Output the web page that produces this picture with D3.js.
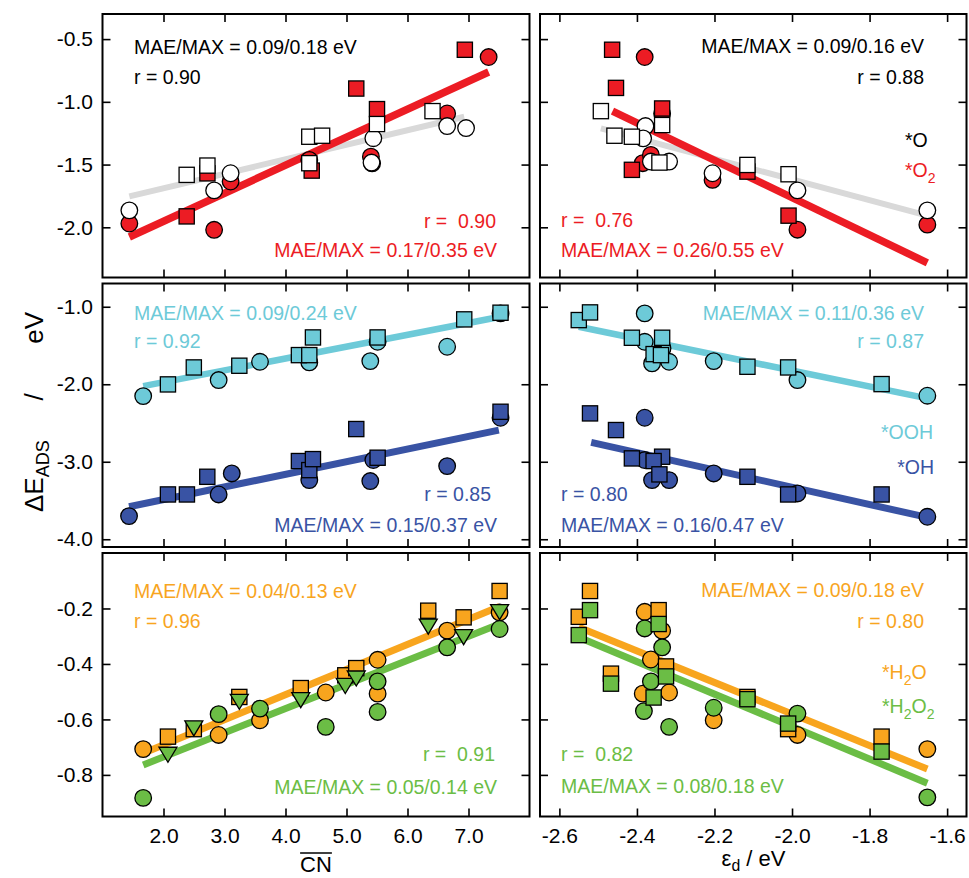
<!DOCTYPE html>
<html>
<head>
<meta charset="utf-8">
<script src="https://cdn.jsdelivr.net/npm/d3@7"></script>
<style>
    body { margin: 0; background: #fff; }
    text { font-family: "Liberation Sans", Arial, Helvetica, sans-serif; white-space: pre; }
</style>
</head>
<body>
<svg id="chart" width="969" height="878"></svg>
<script>
// ---- tick values / labels ----
const cnTicks = [2, 3, 4, 5, 6, 7];
const cnTickLabels = ["2.0", "3.0", "4.0", "5.0", "6.0", "7.0"];
const edTicks = [-2.6, -2.4, -2.2, -2.0, -1.8, -1.6];
const edTickLabels = ["-2.6", "-2.4", "-2.2", "-2.0", "-1.8", "-1.6"];
const oTicks = [-0.5, -1.0, -1.5, -2.0];
const oTickLabels = ["-0.5", "-1.0", "-1.5", "-2.0"];
const ohTicks = [-1, -2, -3, -4];
const ohTickLabels = ["-1.0", "-2.0", "-3.0", "-4.0"];
const h2oTicks = [-0.2, -0.4, -0.6, -0.8];
const h2oTickLabels = ["-0.2", "-0.4", "-0.6", "-0.8"];

// ---- *O / *O2 vs CN ----
const o2CnCircles = [[1.44, -1.97], [2.83, -2.02], [3.10, -1.635], [4.39, -1.463], [5.40, -1.437], [5.42, -1.49], [6.65, -1.093], [7.33, -0.643]];
const o2CnSquares = [[2.38, -1.913], [2.72, -1.57], [4.43, -1.548], [5.16, -0.894], [5.50, -1.058], [6.94, -0.585]];
const oCnCircles = [[1.44, -1.865], [2.83, -1.706], [3.10, -1.569], [5.44, -1.29], [5.41, -1.484], [6.65, -1.193], [6.96, -1.209]];
const oCnSquares = [[2.38, -1.582], [2.72, -1.508], [4.39, -1.278], [4.60, -1.270], [4.39, -1.489], [5.50, -1.177], [6.41, -1.074]];
const o2CnFit = [[1.44, -2.077], [7.33, -0.762]];
const oCnFit = [[1.44, -1.754], [6.93, -1.119]];

// ---- *O / *O2 vs d-band centre ----
const o2EdSquares = [[-2.464, -0.585], [-2.454, -0.889], [-2.335, -1.053], [-2.413, -1.542], [-2.115, -1.556], [-2.009, -1.907]];
const o2EdCircles = [[-2.380, -0.643], [-2.335, -1.093], [-2.385, -1.489], [-2.364, -1.423], [-2.205, -1.622], [-1.986, -2.019], [-1.651, -1.979]];
const oEdCircles = [[-2.378, -1.193], [-2.384, -1.291], [-2.317, -1.476], [-2.364, -1.476], [-2.205, -1.569], [-1.986, -1.706], [-1.651, -1.865]];
const oEdSquares = [[-2.493, -1.074], [-2.458, -1.270], [-2.413, -1.278], [-2.335, -1.185], [-2.342, -1.484], [-2.115, -1.503], [-2.009, -1.577]];
const o2EdFit = [[-2.463, -1.074], [-1.651, -2.283]];
const oEdFit = [[-2.493, -1.212], [-1.651, -1.907]];

// ---- *OOH / *OH vs CN ----
const oohCnCircles = [[1.667, -2.153], [2.904, -1.946], [3.582, -1.710], [4.39, -1.718], [5.39, -1.701], [5.51, -1.452], [6.65, -1.516], [7.525, -1.086]];
const oohCnSquares = [[2.073, -2.002], [2.497, -1.783], [3.243, -1.761], [4.22, -1.624], [4.39, -1.624], [4.45, -1.396], [5.51, -1.396], [6.93, -1.163], [7.525, -1.077]];
const ohCnCircles = [[1.435, -3.701], [2.904, -3.422], [3.119, -3.151], [4.39, -3.237], [5.39, -3.249], [5.44, -2.978], [6.65, -3.056], [7.525, -2.432]];
const ohCnSquares = [[2.073, -3.422], [2.384, -3.422], [2.718, -3.194], [4.22, -2.991], [4.39, -3.108], [4.45, -2.966], [5.16, -2.578], [5.51, -2.948], [7.525, -2.355]];
const oohCnFit = [[1.667, -2.024], [7.525, -1.129]];
const ohCnFit = [[1.435, -3.581], [7.497, -2.591]];

// ---- *OOH / *OH vs d-band centre ----
const oohEdCircles = [[-2.380, -1.086], [-2.380, -1.452], [-2.334, -1.538], [-2.361, -1.731], [-2.317, -1.710], [-2.202, -1.701], [-1.986, -1.946], [-1.651, -2.148]];
const oohEdSquares = [[-2.550, -1.172], [-2.521, -1.073], [-2.413, -1.400], [-2.335, -1.400], [-2.357, -1.611], [-2.338, -1.624], [-2.115, -1.774], [-2.010, -1.783], [-1.769, -1.998]];
const ohEdCircles = [[-2.380, -2.432], [-2.380, -2.978], [-2.361, -3.237], [-2.317, -3.237], [-2.202, -3.151], [-1.986, -3.409], [-1.651, -3.710]];
const ohEdSquares = [[-2.521, -2.376], [-2.454, -2.591], [-2.413, -2.957], [-2.335, -2.935], [-2.357, -2.991], [-2.342, -3.163], [-2.115, -3.194], [-2.010, -3.422], [-1.769, -3.422]];
const oohEdFit = [[-2.550, -1.258], [-1.651, -2.183]];
const ohEdFit = [[-2.518, -2.751], [-1.651, -3.718]];

// ---- *H2O / *H2O2 vs CN ----
const h2oCnCircles = [[1.667, -0.707], [2.904, -0.656], [3.582, -0.603], [4.66, -0.503], [5.51, -0.385], [5.51, -0.507], [6.65, -0.280], [7.51, -0.214]];
const h2oCnSquares = [[2.073, -0.662], [2.497, -0.635], [3.243, -0.519], [4.25, -0.487], [4.98, -0.441], [5.16, -0.415], [6.34, -0.208], [6.92, -0.232], [7.51, -0.137]];
const h2o2CnCircles = [[1.667, -0.883], [2.904, -0.581], [3.582, -0.561], [4.66, -0.627], [5.51, -0.463], [5.51, -0.573], [6.65, -0.340], [7.51, -0.274]];
const h2o2CnTriangles = [[2.073, -0.722], [2.497, -0.627], [3.243, -0.531], [4.25, -0.525], [4.98, -0.474], [5.16, -0.447], [6.34, -0.260], [6.92, -0.298], [7.51, -0.208]];
const h2oCnFit = [[1.667, -0.722], [7.51, -0.193]];
const h2o2CnFit = [[1.667, -0.764], [7.51, -0.256]];

// ---- *H2O / *H2O2 vs d-band centre ----
const h2oEdCircles = [[-2.380, -0.212], [-2.335, -0.280], [-2.364, -0.384], [-2.385, -0.507], [-2.317, -0.503], [-2.202, -0.603], [-1.986, -0.656], [-1.651, -0.707]];
const h2oEdSquares = [[-2.550, -0.230], [-2.521, -0.137], [-2.467, -0.435], [-2.344, -0.206], [-2.325, -0.409], [-2.115, -0.519], [-2.010, -0.635], [-1.769, -0.662]];
const h2o2EdCircles = [[-2.380, -0.272], [-2.335, -0.340], [-2.364, -0.463], [-2.382, -0.570], [-2.317, -0.627], [-2.202, -0.558], [-1.986, -0.579], [-1.651, -0.881]];
const h2o2EdSquares = [[-2.550, -0.296], [-2.521, -0.206], [-2.467, -0.471], [-2.344, -0.256], [-2.325, -0.445], [-2.357, -0.521], [-2.115, -0.527], [-2.010, -0.615], [-1.769, -0.716]];
const h2oEdFit = [[-2.550, -0.268], [-1.651, -0.779]];
const h2o2EdFit = [[-2.550, -0.304], [-1.651, -0.830]];

// ---- layout & colours ----
const red = "#ec1c24", grey = "#d9d9d9", cyan = "#6dcad8", blue = "#3953a4",
    orange = "#f8a51e", green = "#6bbd45";

const colX = [[102.5, 529.5], [540, 966.5]];
const rowY = [[14, 277.5], [283.5, 547], [553, 816.5]];
const xDomains = [[1, 8], [-2.65, -1.55]];
const yDomains = [[-2.4, -0.3], [-4.1, -0.7], [-0.95, 0]];
const xTickSets = [[cnTicks, cnTickLabels], [edTicks, edTickLabels]];
const yTickSets = [[oTicks, oTickLabels], [ohTicks, ohTickLabels], [h2oTicks, h2oTickLabels]];

const svg = d3.select("#chart");

function richText(g, x, y, parts, color, anchor, size, subShift) {
    let shift = subShift || size * 0.3;
    let t = g.append("text")
        .attr("x", x).attr("y", y)
        .attr("text-anchor", anchor)
        .attr("fill", color)
        .style("font-size", size + "px");
    let down = false;
    parts.forEach(p => {
        let sub = p.startsWith("_");
        let s = sub ? p.slice(1) : p;
        let ts = t.append("tspan").text(s);
        if (sub) {
            ts.style("font-size", (size * 0.72) + "px").attr("dy", shift);
            down = true;
        } else if (down) {
            ts.attr("dy", -shift);
            down = false;
        }
    });
    return t;
}

function drawPanel(col, row, cfg) {
    let x = d3.scaleLinear().domain(xDomains[col]).range(colX[col]);
    let y = d3.scaleLinear().domain(yDomains[row]).range([rowY[row][1], rowY[row][0]]);
    let [x0, x1] = colX[col];
    let [y0, y1] = rowY[row];
    let xt = xTickSets[col], yt = yTickSets[row];

    let g = svg.append("g");

    // inward ticks on all four sides
    let tickStyle = s => s.call(a => a.select(".domain").remove())
        .call(a => a.selectAll("line").attr("stroke", "#000").attr("stroke-width", 1.6));
    g.append("g").attr("transform", `translate(0,${y0})`)
        .call(d3.axisBottom(x).tickValues(xt[0]).tickSize(8).tickFormat("")).call(tickStyle);
    g.append("g").attr("transform", `translate(0,${y1})`)
        .call(d3.axisTop(x).tickValues(xt[0]).tickSize(8).tickFormat("")).call(tickStyle);
    g.append("g").attr("transform", `translate(${x0},0)`)
        .call(d3.axisRight(y).tickValues(yt[0]).tickSize(8).tickFormat("")).call(tickStyle);
    g.append("g").attr("transform", `translate(${x1},0)`)
        .call(d3.axisLeft(y).tickValues(yt[0]).tickSize(8).tickFormat("")).call(tickStyle);

    // tick labels
    if (row === 2) {
        g.append("g").attr("transform", `translate(0,${y1})`)
            .call(d3.axisBottom(x).tickValues(xt[0]).tickSize(0).tickPadding(12)
                .tickFormat((d, i) => xt[1][i]))
            .call(a => a.select(".domain").remove())
            .call(a => a.selectAll("text").attr("fill", "#000")
                .style("font-size", "21px").style("font-family", "Liberation Sans, Arial, sans-serif"));
    }
    if (col === 0) {
        g.append("g").attr("transform", `translate(${x0},0)`)
            .call(d3.axisLeft(y).tickValues(yt[0]).tickSize(0).tickPadding(9.5)
                .tickFormat((d, i) => yt[1][i]))
            .call(a => a.select(".domain").remove())
            .call(a => a.selectAll("text").attr("fill", "#000")
                .style("font-size", "21px").style("font-family", "Liberation Sans, Arial, sans-serif"));
    }

    // fit lines
    let line = d3.line().x(d => x(d[0])).y(d => y(d[1]));
    cfg.fits.forEach(f => {
        g.append("path")
            .datum(f.data)
            .attr("d", line)
            .attr("fill", "none")
            .attr("stroke", f.color)
            .attr("stroke-width", f.width);
    });

    // markers
    cfg.series.forEach(s => {
        let m = g.append("g")
            .attr("fill", s.color)
            .attr("stroke", "#000")
            .attr("stroke-width", 1.3);
        if (s.shape === "circle") {
            m.selectAll("circle").data(s.data).join("circle")
                .attr("cx", d => x(d[0])).attr("cy", d => y(d[1])).attr("r", 8.3);
        } else if (s.shape === "square") {
            m.selectAll("rect").data(s.data).join("rect")
                .attr("x", d => x(d[0]) - 7.6).attr("y", d => y(d[1]) - 7.6)
                .attr("width", 15.2).attr("height", 15.2);
        } else {
            m.selectAll("path").data(s.data).join("path")
                .attr("d", "M-9,-6L9,-6L0,9Z")
                .attr("transform", d => `translate(${x(d[0])},${y(d[1])})`);
        }
    });

    // stats and legend text
    cfg.notes.forEach(n => richText(g, n.x, n.y, n.parts, n.color, n.anchor, n.size || 19.5));

    // frame
    g.append("rect")
        .attr("x", x0).attr("y", y0)
        .attr("width", x1 - x0).attr("height", y1 - y0)
        .attr("fill", "none").attr("stroke", "#000").attr("stroke-width", 2);
}

drawPanel(0, 0, {
    fits: [{ data: oCnFit, color: grey, width: 6 }, { data: o2CnFit, color: red, width: 7.5 }],
    series: [
        { data: o2CnCircles, shape: "circle", color: red },
        { data: o2CnSquares, shape: "square", color: red },
        { data: oCnCircles, shape: "circle", color: "#fff" },
        { data: oCnSquares, shape: "square", color: "#fff" }
    ],
    notes: [
        { x: 134, y: 54, parts: ["MAE/MAX = 0.09/0.18 eV"], color: "#000", anchor: "start" },
        { x: 134, y: 84, parts: ["r = 0.90"], color: "#000", anchor: "start" },
        { x: 496, y: 228, parts: ["r =  0.90"], color: red, anchor: "end" },
        { x: 497, y: 257, parts: ["MAE/MAX = 0.17/0.35 eV"], color: red, anchor: "end" }
    ]
});

drawPanel(1, 0, {
    fits: [{ data: oEdFit, color: grey, width: 6 }, { data: o2EdFit, color: red, width: 7.5 }],
    series: [
        { data: o2EdCircles, shape: "circle", color: red },
        { data: o2EdSquares, shape: "square", color: red },
        { data: oEdCircles, shape: "circle", color: "#fff" },
        { data: oEdSquares, shape: "square", color: "#fff" }
    ],
    notes: [
        { x: 924, y: 53, parts: ["MAE/MAX = 0.09/0.16 eV"], color: "#000", anchor: "end" },
        { x: 924, y: 84, parts: ["r = 0.88"], color: "#000", anchor: "end" },
        { x: 905, y: 147, parts: ["*O"], color: "#000", anchor: "start" },
        { x: 905, y: 177, parts: ["*O", "_2"], color: red, anchor: "start" },
        { x: 561, y: 227, parts: ["r =  0.76"], color: red, anchor: "start" },
        { x: 561, y: 257, parts: ["MAE/MAX = 0.26/0.55 eV"], color: red, anchor: "start" }
    ]
});

drawPanel(0, 1, {
    fits: [{ data: oohCnFit, color: cyan, width: 6.5 }, { data: ohCnFit, color: blue, width: 7 }],
    series: [
        { data: oohCnCircles, shape: "circle", color: cyan },
        { data: oohCnSquares, shape: "square", color: cyan },
        { data: ohCnCircles, shape: "circle", color: blue },
        { data: ohCnSquares, shape: "square", color: blue }
    ],
    notes: [
        { x: 134, y: 320, parts: ["MAE/MAX = 0.09/0.24 eV"], color: cyan, anchor: "start" },
        { x: 134, y: 348, parts: ["r = 0.92"], color: cyan, anchor: "start" },
        { x: 491, y: 501, parts: ["r = 0.85"], color: blue, anchor: "end" },
        { x: 497, y: 532, parts: ["MAE/MAX = 0.15/0.37 eV"], color: blue, anchor: "end" }
    ]
});

drawPanel(1, 1, {
    fits: [{ data: oohEdFit, color: cyan, width: 6.5 }, { data: ohEdFit, color: blue, width: 7 }],
    series: [
        { data: oohEdCircles, shape: "circle", color: cyan },
        { data: oohEdSquares, shape: "square", color: cyan },
        { data: ohEdCircles, shape: "circle", color: blue },
        { data: ohEdSquares, shape: "square", color: blue }
    ],
    notes: [
        { x: 924, y: 320, parts: ["MAE/MAX = 0.11/0.36 eV"], color: cyan, anchor: "end" },
        { x: 924, y: 348, parts: ["r = 0.87"], color: cyan, anchor: "end" },
        { x: 933, y: 439, parts: ["*OOH"], color: cyan, anchor: "end" },
        { x: 934, y: 474, parts: ["*OH"], color: blue, anchor: "end" },
        { x: 561, y: 501, parts: ["r = 0.80"], color: blue, anchor: "start" },
        { x: 561, y: 532, parts: ["MAE/MAX = 0.16/0.47 eV"], color: blue, anchor: "start" }
    ]
});

drawPanel(0, 2, {
    fits: [{ data: h2o2CnFit, color: green, width: 7 }, { data: h2oCnFit, color: orange, width: 7 }],
    series: [
        { data: h2oCnCircles, shape: "circle", color: orange },
        { data: h2oCnSquares, shape: "square", color: orange },
        { data: h2o2CnCircles, shape: "circle", color: green },
        { data: h2o2CnTriangles, shape: "triangle", color: green }
    ],
    notes: [
        { x: 134, y: 598, parts: ["MAE/MAX = 0.04/0.13 eV"], color: orange, anchor: "start" },
        { x: 134, y: 628, parts: ["r = 0.96"], color: orange, anchor: "start" },
        { x: 495, y: 761, parts: ["r =  0.91"], color: green, anchor: "end" },
        { x: 497, y: 794, parts: ["MAE/MAX = 0.05/0.14 eV"], color: green, anchor: "end" }
    ]
});

drawPanel(1, 2, {
    fits: [{ data: h2o2EdFit, color: green, width: 7 }, { data: h2oEdFit, color: orange, width: 7 }],
    series: [
        { data: h2oEdCircles, shape: "circle", color: orange },
        { data: h2oEdSquares, shape: "square", color: orange },
        { data: h2o2EdCircles, shape: "circle", color: green },
        { data: h2o2EdSquares, shape: "square", color: green }
    ],
    notes: [
        { x: 924, y: 597, parts: ["MAE/MAX = 0.09/0.18 eV"], color: orange, anchor: "end" },
        { x: 924, y: 628, parts: ["r = 0.80"], color: orange, anchor: "end" },
        { x: 882, y: 679, parts: ["*H", "_2", "O"], color: orange, anchor: "start" },
        { x: 882, y: 713, parts: ["*H", "_2", "O", "_2"], color: green, anchor: "start" },
        { x: 561, y: 761, parts: ["r =  0.82"], color: green, anchor: "start" },
        { x: 561, y: 793, parts: ["MAE/MAX = 0.08/0.18 eV"], color: green, anchor: "start" }
    ]
});

// ---- axis titles ----
let cn = svg.append("text")
    .attr("x", 316).attr("y", 872)
    .attr("text-anchor", "middle")
    .style("font-size", "22px")
    .text("CN");
let bb = cn.node().getBBox();
svg.append("line")
    .attr("x1", bb.x).attr("x2", bb.x + bb.width)
    .attr("y1", 853).attr("y2", 853)
    .attr("stroke", "#000").attr("stroke-width", 1.5);

richText(svg, 753.5, 866, ["ε", "_d", " / eV"], "#000", "middle", 22, 4.5);

// y title, rotated, in three pieces like the reference
let yt1 = svg.append("text")
    .attr("transform", "translate(43,512) rotate(-90)")
    .attr("text-anchor", "start")
    .style("font-size", "26px");
yt1.append("tspan").text("ΔE");
yt1.append("tspan").text("ADS").style("font-size", "18px").attr("dy", 6);

svg.append("text")
    .attr("transform", "translate(43,397) rotate(-90)")
    .attr("text-anchor", "middle")
    .style("font-size", "26px")
    .text("/");

svg.append("text")
    .attr("transform", "translate(43,312) rotate(-90)")
    .attr("text-anchor", "end")
    .style("font-size", "26px")
    .text("eV");
</script>
</body>
</html>
